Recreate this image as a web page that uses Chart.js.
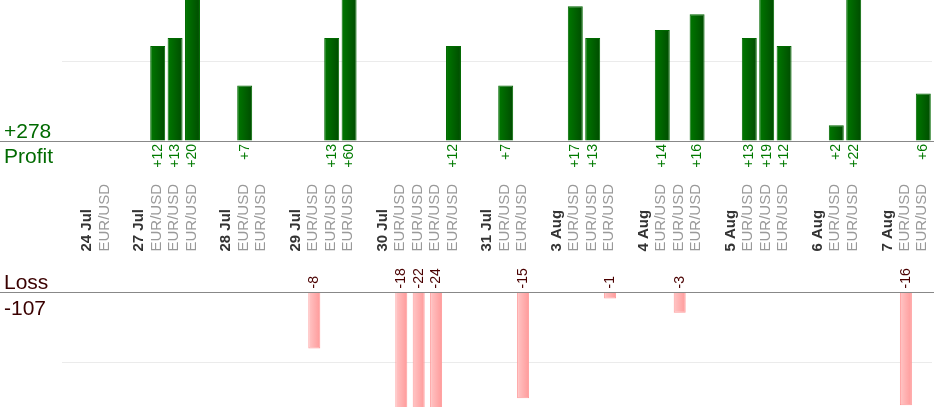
<!DOCTYPE html>
<html>
<head>
<meta charset="utf-8">
<script src="https://cdn.jsdelivr.net/npm/chart.js@4"></script>
<style>
  body { margin: 0; background: #fff; font-family: "Liberation Sans", Arial, sans-serif; }
  #page { position: relative; width: 934px; height: 420px; overflow: hidden; }
  .wrap { position: absolute; left: 0; width: 934px; }
  .big { position: absolute; left: 4px; font-size: 21px; line-height: 21px; white-space: nowrap; }
  .green { color: #006a00; }
  .brown { color: #3a0000; }
</style>
</head>
<body>
<div id="page">
  <div class="wrap" style="top:0;height:175px"><canvas id="profitChart" width="934" height="175"></canvas></div>
  <div class="wrap" style="top:175px;height:245px"><canvas id="lossChart" width="934" height="245"></canvas></div>
  <div class="big green" style="top:120px">+278</div>
  <div class="big green" style="top:145px">Profit</div>
  <div class="big brown" style="top:271px">Loss</div>
  <div class="big brown" style="top:297px">-107</div>
</div>
<script>
// one slot per column: empty gap, day label, then the trades of that day
const slotLabels = [
    '', '24 Jul', 'EUR/USD',
    '', '27 Jul', 'EUR/USD', 'EUR/USD', 'EUR/USD',
    '', '28 Jul', 'EUR/USD', 'EUR/USD',
    '', '29 Jul', 'EUR/USD', 'EUR/USD', 'EUR/USD',
    '', '30 Jul', 'EUR/USD', 'EUR/USD', 'EUR/USD', 'EUR/USD',
    '', '31 Jul', 'EUR/USD', 'EUR/USD',
    '', '3 Aug', 'EUR/USD', 'EUR/USD', 'EUR/USD',
    '', '4 Aug', 'EUR/USD', 'EUR/USD', 'EUR/USD',
    '', '5 Aug', 'EUR/USD', 'EUR/USD', 'EUR/USD',
    '', '6 Aug', 'EUR/USD', 'EUR/USD',
    '', '7 Aug', 'EUR/USD', 'EUR/USD'
];

const profitValues = [
    null, null, null,
    null, null, 12, 13, 20,
    null, null, 7, null,
    null, null, null, 13, 60,
    null, null, null, null, null, 12,
    null, null, 7, null,
    null, null, 17, 13, null,
    null, null, 14, null, 16,
    null, null, 13, 19, 12,
    null, null, 2, 22,
    null, null, null, 6
];

const lossValues = [
    null, null, null,
    null, null, null, null, null,
    null, null, null, null,
    null, null, -8, null, null,
    null, null, -18, -22, -24, null,
    null, null, null, -15,
    null, null, null, null, -1,
    null, null, null, -3, null,
    null, null, null, null, null,
    null, null, null, null,
    null, null, -16, null
];

const profitMax = 17.8;
const lossMin = -16.24;

function isDay(i) {
    return slotLabels[i] !== '' && slotLabels[i] !== 'EUR/USD';
}

// horizontal gradient across each bar
function barGradient(from, to, share) {
    return (c) => {
        const chart = c.chart;
        if (!chart.chartArea || c.type !== 'data') return to;
        const x = chart.scales.x.getPixelForValue(c.dataIndex);
        const half = chart.chartArea.width / slotLabels.length * share / 2;
        const g = chart.ctx.createLinearGradient(x - half, 0, x + half, 0);
        g.addColorStop(0, from);
        g.addColorStop(1, to);
        return g;
    };
}

// rotated value labels + zero line over the full width
const valueLabels = {
    id: 'valueLabels',
    afterDatasetsDraw(chart, args, opts) {
        const ctx = chart.ctx;
        const meta = chart.getDatasetMeta(0);
        const values = chart.data.datasets[0].data;
        const zeroY = chart.scales.y.getPixelForValue(0);

        ctx.save();
        ctx.font = opts.font;
        ctx.fillStyle = opts.color;
        ctx.textBaseline = 'middle';
        ctx.textAlign = opts.align;
        meta.data.forEach((bar, i) => {
            const v = values[i];
            if (!v) return;
            ctx.save();
            ctx.translate(bar.x, zeroY + opts.offset);
            ctx.rotate(-Math.PI / 2);
            ctx.fillText((v > 0 ? opts.prefix : '') + v, 0, 0);
            ctx.restore();
        });

        ctx.strokeStyle = '#888';
        ctx.lineWidth = 1;
        ctx.beginPath();
        ctx.moveTo(0, Math.round(zeroY) + 0.5);
        ctx.lineTo(chart.width, Math.round(zeroY) + 0.5);
        ctx.stroke();
        ctx.restore();
    }
};

new Chart(document.getElementById('profitChart'), {
    type: 'bar',
    data: {
        labels: slotLabels,
        datasets: [{
            data: profitValues,
            backgroundColor: barGradient('#007800', '#004c00', 0.86),
            borderColor: '#006800',
            borderWidth: 1,
            barPercentage: 0.86,
            categoryPercentage: 1
        }]
    },
    options: {
        responsive: false,
        animation: false,
        layout: { padding: { left: 62, right: 2, top: 0, bottom: 34 } },
        plugins: {
            legend: { display: false },
            tooltip: { enabled: false },
            valueLabels: { font: '14px "Liberation Sans", Arial', color: '#007a00', align: 'right', offset: 3, prefix: '+' }
        },
        scales: {
            x: { display: false },
            y: {
                min: 0,
                max: profitMax,
                border: { display: false },
                ticks: { display: false, stepSize: 10 },
                grid: { drawTicks: false, color: c => c.tick && c.tick.value === 10 ? '#ebebeb' : 'transparent' }
            }
        }
    },
    plugins: [valueLabels]
});

new Chart(document.getElementById('lossChart'), {
    type: 'bar',
    data: {
        labels: slotLabels,
        datasets: [{
            data: lossValues,
            backgroundColor: barGradient('#ffc6c6', '#ff9a9a', 0.69),
            borderColor: '#ff9a9a',
            borderWidth: 1,
            barPercentage: 0.69,
            categoryPercentage: 1
        }]
    },
    options: {
        responsive: false,
        animation: false,
        layout: { padding: { left: 62, right: 2, top: 6, bottom: 13 } },
        plugins: {
            legend: { display: false },
            tooltip: { enabled: false },
            valueLabels: { font: '14px "Liberation Sans", Arial', color: '#4a0000', align: 'left', offset: -3, prefix: '' }
        },
        scales: {
            x: {
                position: 'top',
                border: { display: false },
                // invisible tick marks keep the labels away from the plot
                grid: { display: false, drawTicks: true, tickLength: 37 },
                ticks: {
                    autoSkip: false,
                    minRotation: 90,
                    maxRotation: 90,
                    padding: 3,
                    labelOffset: 17,
                    font: c => isDay(c.index)
                        ? { family: '"Liberation Sans", Arial', size: 15, weight: 'bold' }
                        : { family: '"Liberation Sans", Arial', size: 15 },
                    color: c => isDay(c.index) ? '#333' : '#999'
                }
            },
            y: {
                min: lossMin,
                max: 0,
                border: { display: false },
                ticks: { display: false, stepSize: 10 },
                grid: { drawTicks: false, color: c => c.tick && c.tick.value === -10 ? '#ebebeb' : 'transparent' }
            }
        }
    },
    plugins: [valueLabels]
});
</script>
</body>
</html>
